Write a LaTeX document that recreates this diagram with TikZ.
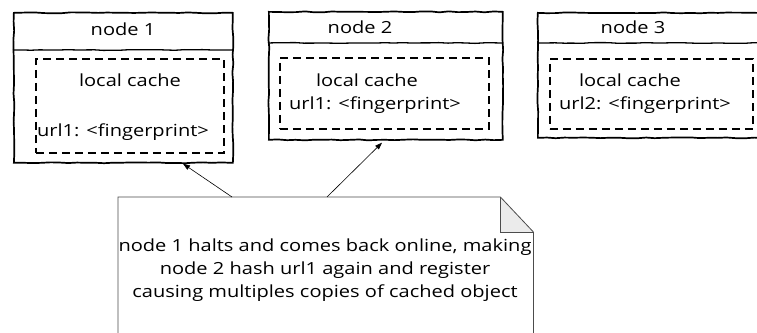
\documentclass[tikz,border=0pt]{standalone}
\usepackage{fontspec}
\setmainfont[FakeStretch=1.2]{Open Sans}
\usetikzlibrary{calc,arrows.meta,decorations.pathmorphing}
\tikzset{
  outerbox/.style={draw=black, line width=1.7pt, anchor=north west, inner sep=0pt,
    decorate, decoration={random steps, segment length=9pt, amplitude=0.5pt}},
  divider/.style={line width=1.3pt, decorate, decoration={random steps, segment length=9pt, amplitude=0.4pt}},
  cachebox/.style={draw=black, line width=1.6pt, dash pattern=on 8pt off 5pt, anchor=north west, inner sep=0pt},
  lbl/.style={font=\fontsize{16.7}{19}\selectfont, inner sep=0pt},
  notetxt/.style={font=\fontsize{16.7}{23}\selectfont, align=center, inner sep=0pt},
  noteline/.style={draw=black!70, line width=0.8pt},
  arr/.style={draw=black, line width=0.6pt, -{Triangle[length=7pt,width=5pt]}}
}
\pgfmathsetseed{7}
\begin{document}
\begin{tikzpicture}[x=1pt,y=-1pt]
\useasboundingbox (0,0) rectangle (757,332);
\clip (0,0) rectangle (757,332);
\fill[white] (0,0) rectangle (757,332);
% node 1
\node[outerbox, minimum width=219pt, minimum height=150pt] (n1) at (13,12) {};
\draw[divider] (13,50) coordinate (d1l) -- (232,50) coordinate (d1r);
\node[cachebox, minimum width=188pt, minimum height=94pt] (c1) at (35,58) {};
\node[lbl] (t1) at (123,29) {node 1};
\node[lbl] (lc1) at (130,80) {local cache};
\node[lbl] (u1) at (123,132) {url1: <fingerprint>};
% node 2
\node[outerbox, minimum width=234pt, minimum height=128pt] (n2) at (268,11) {};
\draw[divider] (268,43) coordinate (d2l) -- (502,43) coordinate (d2r);
\node[cachebox, minimum width=209pt, minimum height=71pt] (c2) at (279,57) {};
\node[lbl] (t2) at (360,27) {node 2};
\node[lbl] (lc2) at (367,80) {local cache};
\node[lbl] (u2) at (375,105) {url1: <fingerprint>};
% node 3
\node[outerbox, minimum width=234pt, minimum height=125pt] (n3) at (537,12) {};
\draw[divider] (537,43) coordinate (d3l) -- (771,43) coordinate (d3r);
\node[cachebox, minimum width=203pt, minimum height=70pt] (c3) at (549,58) {};
\node[lbl] (t3) at (633,27) {node 3};
\node[lbl] (lc3) at (630,80) {local cache};
\node[lbl] (u3) at (645,105) {url2: <fingerprint>};
% note
\node[anchor=north west, minimum width=415pt, minimum height=170pt, inner sep=0pt] (note) at (118,197) {};
\fill[black!8] ($(note.north east)+(-33,0)$) -- ($(note.north east)+(0,35)$) -- ($(note.north east)+(-33,35)$) -- cycle;
\draw[noteline] (note.south west) -- (note.north west) -- ($(note.north east)+(-33,0)$) coordinate (f1) -- ($(note.north east)+(0,35)$) coordinate (f2) -- (note.south east);
\draw[noteline] (f1) -- ($(note.north east)+(-33,35)$) -- (f2);
\node[notetxt] (nt) at (325,270) {node 1 halts and comes back online, making\\node 2 hash url1 again and register\\causing multiples copies of cached object};
% arrows
\draw[arr] ($(note.north west)+(114,0)$) -- ($(n1.south west)+(170,0)$);
\draw[arr] ($(note.north west)+(209,0)$) -- ($(n2.south west)+(114,2)$);
\end{tikzpicture}
\end{document}
